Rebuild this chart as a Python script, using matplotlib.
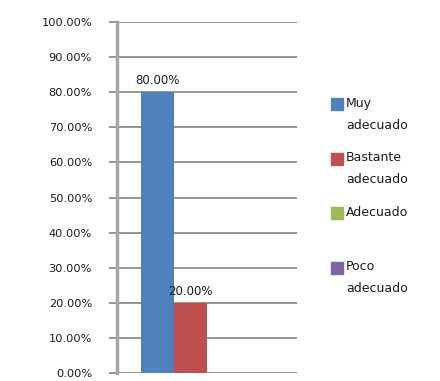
import matplotlib.pyplot as plt
from matplotlib.patches import Rectangle
from matplotlib.ticker import PercentFormatter

# Series (one category, four answers)
series = ["Muy\nadecuado", "Bastante\nadecuado", "Adecuado", "Poco\nadecuado"]
values = [0.80, 0.20, 0.0, 0.0]
colors = ["#4f81bd", "#c0504d", "#9bbb59", "#8064a2"]
shown_labels = ["80.00%", "20.00%", None, None]
yticks = [i / 10 for i in range(11)]

plt.rcParams['font.family'] = 'DejaVu Sans'

fig = plt.figure(figsize=(4.4, 3.81), dpi=100)
ax = fig.add_axes([117 / 440, 8 / 381, 180 / 440, 351 / 381])

width = 0.183
offsets = [(i - 1.5) * width for i in range(len(series))]
for off, v, c, lab in zip(offsets, values, colors, shown_labels):
    ax.bar(off, v, width=width, color=c, zorder=3)
    if lab:
        ax.text(off, v + 0.015, lab, ha='center', va='bottom', fontsize=8.5,
                color='#1a1a1a', zorder=4)

ax.set_xlim(-0.5, 0.5)
ax.set_ylim(0, 1.0)
ax.set_yticks(yticks)
ax.yaxis.set_major_formatter(PercentFormatter(1.0, decimals=2))
ax.set_xticks([])
ax.grid(axis='y', color='#8c8c8c', linewidth=1.3, zorder=0)
ax.tick_params(axis='y', length=6, width=1.3, color='#8c8c8c', pad=12,
               labelsize=8.2, labelcolor='#1a1a1a')
for s in ['top', 'right', 'bottom']:
    ax.spines[s].set_visible(False)
ax.spines['left'].set_color('#a6a6a6')
ax.spines['left'].set_linewidth(2.5)

# Legend drawn by hand: squares spaced evenly, text top-aligned
for i, (name, c) in enumerate(zip(series, colors)):
    y = 1 - (104 + i * 54.5) / 381
    fig.patches.append(Rectangle((331 / 440, y - 6 / 381), 12 / 440, 12 / 381,
                                 transform=fig.transFigure, color=c))
    fig.text(346 / 440, y + 7 / 381, name, ha='left', va='top', fontsize=9,
             color='#1a1a1a', linespacing=1.9)

fig.savefig('out.png')
